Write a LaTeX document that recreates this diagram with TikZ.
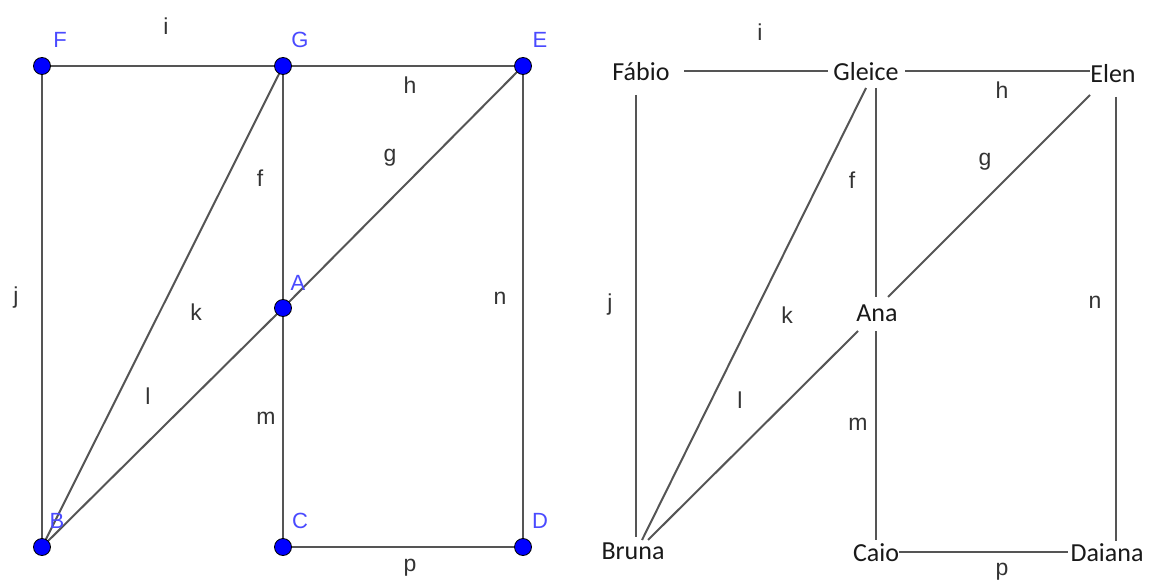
\documentclass[tikz,border=0pt]{standalone}
\usepackage{fontspec}
\newfontfamily\namefont{Carlito}
\newfontfamily\lblfont{Liberation Sans}
\definecolor{edgegray}{HTML}{555555}
\definecolor{ptblue}{HTML}{0000FF}
\definecolor{lblblue}{HTML}{4A4AFF}
\pgfdeclarelayer{bg}
\pgfsetlayers{bg,main}
\begin{document}
\begin{tikzpicture}[x=1pt,y=-1pt,
 pt/.style={circle,fill=ptblue,draw=black,line width=0.8pt,minimum size=17pt,inner sep=0pt},
 ptlabel/.style={text=lblblue,font=\lblfont\fontsize{22}{22}\selectfont,inner sep=0pt},
 elabel/.style={text=black!80,font=\lblfont\fontsize{23}{23}\selectfont,inner sep=0pt},
 person/.style={font=\namefont\fontsize{26}{26}\selectfont,inner sep=0pt,text=black!90},
 edge/.style={draw=edgegray,line width=2pt}]
\useasboundingbox (0,0) rectangle (1150,580);
% ---------- left graph ----------
\node[pt] (F) at (42,66) {};
\node[pt] (G) at (283,66) {};
\node[pt] (E) at (523,66) {};
\node[pt] (A) at (283,308) {};
\node[pt] (B) at (42,547) {};
\node[pt] (C) at (283,547) {};
\node[pt] (D) at (523,547) {};
\begin{pgfonlayer}{bg}
\draw[edge] (F.center) -- (G.center);
\draw[edge] (G.center) -- (E.center);
\draw[edge] (F.center) -- (B.center);
\draw[edge] (G.center) -- (A.center);
\draw[edge] (A.center) -- (C.center);
\draw[edge] (C.center) -- (D.center);
\draw[edge] (E.center) -- (D.center);
\draw[edge] (G.center) -- (B.center);
\draw[edge] (E.center) -- (A.center);
\draw[edge] (A.center) -- (B.center);
\end{pgfonlayer}
\node[ptlabel] (lF) at (60,40) {F};
\node[ptlabel] (lG) at (300,40) {G};
\node[ptlabel] (lE) at (540,40) {E};
\node[ptlabel] (lA) at (298,283) {A};
\node[ptlabel] (lB) at (57,521) {B};
\node[ptlabel] (lC) at (300,521) {C};
\node[ptlabel] (lD) at (540,521) {D};
\node[elabel] (ei) at (166,26) {i};
\node[elabel] (eh) at (410,85) {h};
\node[elabel] (ef) at (260,178) {f};
\node[elabel] (eg) at (390,158) {g};
\node[elabel] (ej) at (16,298) {j};
\node[elabel] (ek) at (196,312) {k};
\node[elabel] (el) at (148,396) {l};
\node[elabel] (em) at (266,418) {m};
\node[elabel] (en) at (500,298) {n};
\node[elabel] (ep) at (410,568) {p};
% ---------- right graph ----------
\node[person] (Fab) at (641,72) {Fábio};
\node[person] (Gle) at (866,72) {Gleice};
\node[person] (Ele) at (1113,74) {Elen};
\node[person] (Ana) at (877,313) {Ana};
\node[person] (Bru) at (633,551) {Bruna};
\node[person] (Cai) at (876,553) {Caio};
\node[person] (Dai) at (1107,553) {Daiana};
\draw[edge] ([shift={(43,-1)}]Fab.center) -- ([shift={(-38,-1)}]Gle.center);
\draw[edge] ([shift={(39,-1)}]Gle.center) -- ([shift={(-23,-3)}]Ele.center);
\draw[edge] ([shift={(-5,23)}]Fab.center) -- ([shift={(3,-14)}]Bru.center);
\draw[edge] ([shift={(10,16)}]Gle.center) -- ([shift={(-1,-16)}]Ana.center);
\draw[edge] ([shift={(0,16)}]Gle.center) -- ([shift={(9,-11)}]Bru.center);
\draw[edge] ([shift={(-23,21)}]Ele.center) -- ([shift={(11,-16)}]Ana.center);
\draw[edge] ([shift={(-19,18)}]Ana.center) -- ([shift={(15,-11)}]Bru.center);
\draw[edge] ([shift={(-1,18)}]Ana.center) -- ([shift={(0,-13)}]Cai.center);
\draw[edge] ([shift={(3,23)}]Ele.center) -- ([shift={(9,-12)}]Dai.center);
\draw[edge] ([shift={(23,-1)}]Cai.center) -- ([shift={(-39,-1)}]Dai.center);
\node[elabel] (ri) at (760,32) {i};
\node[elabel] (rh) at (1002,90) {h};
\node[elabel] (rf) at (852,180) {f};
\node[elabel] (rg) at (985,162) {g};
\node[elabel] (rj) at (610,305) {j};
\node[elabel] (rk) at (787,315) {k};
\node[elabel] (rl) at (740,400) {l};
\node[elabel] (rm) at (858,424) {m};
\node[elabel] (rn) at (1095,302) {n};
\node[elabel] (rp) at (1002,572) {p};
\end{tikzpicture}
\end{document}
